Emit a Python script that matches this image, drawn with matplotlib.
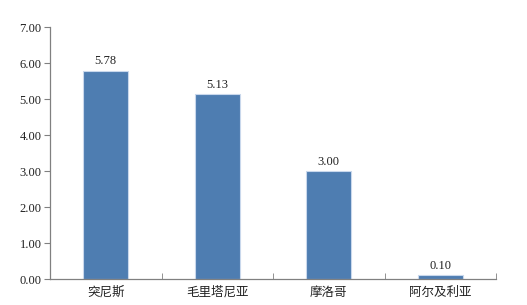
import matplotlib
matplotlib.use("Agg")
import matplotlib.pyplot as plt
from matplotlib.ticker import FixedLocator

categories = ["突尼斯", "毛里塔尼亚", "摩洛哥", "阿尔及利亚"]
values = [5.78, 5.13, 3.00, 0.10]
labels = ["5.78", "5.13", "3.00", "0.10"]
yticks = [0, 1, 2, 3, 4, 5, 6, 7]

fig = plt.figure(figsize=(5.27, 3.05), dpi=100)
ax = fig.add_axes([50/527, 26/305, 446/527, 252/305])

x = list(range(len(categories)))
ax.bar(x, values, width=0.4, color="#4E7DB1", edgecolor="#C9D8EC", linewidth=0.8)
ax.set_xlim(-0.5, len(categories) - 0.5)
ax.set_ylim(0, 7)
ax.set_yticks(yticks)
ax.set_yticklabels([f"{v:.2f}" for v in yticks], family="Liberation Serif", fontsize=9, color="#222222")
ax.set_xticks(x)
ax.set_xticklabels(categories, family=["Noto Sans CJK SC", "DejaVu Sans"], fontsize=9, color="#222222")
ax.tick_params(axis="x", length=0, pad=5)
ax.xaxis.set_minor_locator(FixedLocator([i + 0.5 for i in range(len(categories))]))
ax.tick_params(axis="x", which="minor", direction="in", length=4, color="#808080")
ax.tick_params(axis="y", direction="out", length=4, color="#808080", pad=2)

for s in ["top", "right"]:
    ax.spines[s].set_visible(False)
for s in ["left", "bottom"]:
    ax.spines[s].set_color("#808080")
    ax.spines[s].set_linewidth(0.9)

for xi, v, lab in zip(x, values, labels):
    ax.annotate(lab, (xi, v), xytext=(0, 2.5), textcoords="offset points",
                ha="center", va="bottom", family="Liberation Serif", fontsize=9, color="#222222")

fig.savefig("out.png", dpi=100)
